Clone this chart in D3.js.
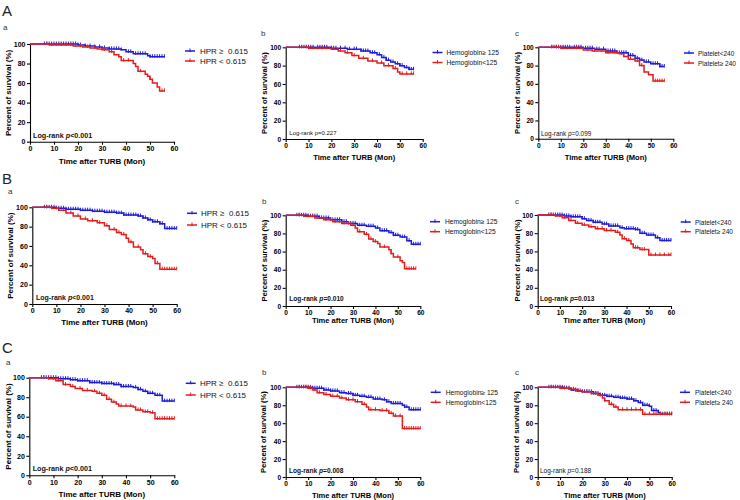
<!DOCTYPE html>
<html><head><meta charset="utf-8">
<script src="https://cdn.jsdelivr.net/npm/d3@7"></script>
<style>body{margin:0;background:#fff}svg{display:block}text{font-family:"Liberation Sans",Arial,sans-serif}</style>
</head><body><svg id="c" width="740" height="500"></svg>
<script>
// ---------- DATA ----------
const timeTicks = [0,10,20,30,40,50,60];
const survivalTicks = [0,20,40,60,80,100];
const groupLetters = ["A","B","C"];
const panelLetters = ["a","b","c"];
const xTitle = "Time after TURB (Mon)";
const yTitle = "Percent of survival (%)";
const legendHPR = ["HPR \u2265\u00a0 0.615","HPR < 0.615"];
const legendHb = ["Hemoglobin\u2265 125","Hemoglobin<125"];
const legendPlt = ["Platelet<240","Platelet\u2265 240"];
const logRankP = ["<0.001","=0.227","=0.099","<0.001","=0.010","=0.013","<0.001","=0.008","=0.188"];

// step curves [time, survival %]
const Aa_blue = [[0,100],[20,99],[23,98],[27,97],[30,96],[33,95],[38,94],[40,92],[43,90],[49,88],[50,87],[56,87]];
const Aa_red  = [[0,100],[8,99],[18,98],[22,97],[25,96],[28,95],[30,94],[33,92],[35,89],[37,87],[38,83],[43,80],[44,77],[45,72],[48,69],[49,67],[50,64],[51,60],[53,56],[54,52],[56,52]];
const Ab_blue = [[0,100],[20,99],[27,98],[33,96],[37,94],[40,92],[42,89],[44,86],[46,84],[48,82],[50,80],[52,78],[54,76],[56,76]];
const Ab_red  = [[0,100],[10,99],[20,98],[23,96],[26,94],[29,91],[32,88],[36,85],[40,83],[43,80],[47,77],[49,73],[50,71],[56,71]];
const Ac_blue = [[0,100],[20,99],[25,98],[30,96],[35,94],[40,91],[43,88],[45,86],[47,84],[50,82],[54,79],[56,79]];
const Ac_red  = [[0,100],[10,99],[20,97],[24,96],[30,94],[36,93],[38,90],[40,87],[43,85],[45,80],[47,73],[49,70],[51,63],[56,63]];
const Ba_blue = [[0,100],[10,99],[14,98],[20,97],[25,96],[30,95],[35,94],[38,92],[44,91],[46,89],[48,87],[50,85],[53,83],[55,78],[60,78]];
const Ba_red  = [[0,100],[8,99],[11,97],[14,94],[17,91],[20,88],[23,86],[27,84],[30,81],[32,77],[35,74],[37,72],[39,68],[40,64],[42,59],[45,56],[46,52],[48,49],[50,47],[51,42],[53,36],[60,36]];
const Bb_blue = [[0,100],[10,99],[15,97],[20,95],[25,93],[28,91],[32,89],[36,88],[40,86],[42,83],[46,81],[48,78],[51,76],[54,72],[56,68],[60,68]];
const Bb_red  = [[0,100],[8,99],[13,97],[17,95],[21,93],[25,91],[29,89],[31,86],[32,82],[35,79],[37,74],[39,71],[41,69],[42,65],[46,62],[47,58],[48,54],[51,50],[52,48],[53,41],[58,41]];
const Bc_blue = [[0,100],[12,99],[15,98],[20,96],[22,94],[25,92],[29,90],[32,88],[37,86],[39,85],[44,84],[46,80],[49,78],[53,75],[55,72],[60,72]];
const Bc_red  = [[0,100],[8,99],[11,97],[14,94],[17,91],[20,89],[23,87],[26,85],[30,83],[35,81],[37,78],[38,74],[40,72],[42,68],[43,64],[46,62],[50,56],[60,56]];
const Ca_blue = [[0,100],[12,99],[17,98],[20,97],[25,95],[30,94],[35,93],[38,91],[43,90],[45,88],[47,86],[49,84],[52,82],[55,76],[60,76]];
const Ca_red  = [[0,100],[8,99],[11,97],[14,93],[17,91],[19,89],[22,87],[26,86],[28,84],[30,82],[32,78],[34,75],[36,73],[37,71],[43,70],[44,67],[47,65],[50,64],[52,58],[60,58]];
const Cb_blue = [[0,100],[12,99],[17,97],[20,96],[24,94],[27,93],[30,91],[33,90],[36,89],[39,87],[43,86],[45,84],[47,82],[52,80],[53,78],[55,75],[60,75]];
const Cb_red  = [[0,100],[10,99],[12,97],[14,94],[17,92],[20,90],[24,88],[27,86],[31,84],[34,81],[36,78],[37,75],[42,74],[46,71],[48,68],[52,54],[60,54]];
const Cc_blue = [[0,100],[12,99],[15,97],[18,96],[20,95],[25,93],[28,91],[31,90],[34,89],[37,88],[40,87],[43,85],[45,83],[47,80],[50,79],[51,74],[54,72],[55,70],[60,70]];
const Cc_red  = [[0,100],[10,99],[14,98],[17,96],[20,95],[24,93],[27,91],[29,88],[30,85],[32,81],[34,78],[36,75],[47,70],[60,70]];

// censoring times
const Aa_blueCens = [6,7,8,9,10,11,12,13,14,15,16,17,18,19,20,21,23,25,27,29,31,33,34,35,36,37,38,41,42,44,45,46,47,48,50,51,52,53,54,55,56];
const Aa_redCens  = [7,9,11,13,15,17,19,21,24,27,31,34,39,41,46,50,55,56];
const Ab_blueCens = [6,7,8,9,10,11,12,14,15,16,17,18,20,21,22,24,26,28,30,31,33,34,35,36,38,39,41,43,44,45,47,49,50,51,53,54,55,56];
const Ab_redCens  = [7,9,10,12,14,16,18,21,24,27,30,34,38,42,45,48,51,53,55,56];
const Ac_blueCens = [6,7,8,9,10,11,12,13,14,16,17,18,19,21,22,23,24,26,27,29,31,32,33,34,36,37,38,39,41,42,44,45,46,48,49,51,52,53,54,55,56];
const Ac_redCens  = [6,8,9,11,13,15,17,19,22,25,28,31,34,37,41,44,46,52,53,54,55,56];
const Ba_blueCens = [5,6,7,8,9,10,11,12,13,14,15,16,17,18,19,20,21,22,23,24,25,26,27,28,29,30,31,32,33,34,35,36,37,38,39,40,41,42,43,44,45,46,47,48,49,50,51,52,53,54,56,57,58,59,60];
const Ba_redCens  = [6,8,10,13,16,19,22,25,28,31,34,36,38,41,44,47,49,52,54,55,56,57,58,59,60];
const Bb_blueCens = [5,6,7,8,9,10,11,12,13,14,15,16,17,18,19,20,21,22,23,24,26,27,29,30,31,33,34,35,37,38,39,41,43,44,45,47,48,49,50,52,53,55,57,58,59,60];
const Bb_redCens  = [6,8,10,12,14,16,18,20,22,24,26,28,30,33,36,38,40,44,47,50,54,55,56,57,58];
const Bc_blueCens = [5,6,7,8,9,10,11,12,13,14,15,16,17,18,19,20,21,23,24,25,26,27,28,30,31,32,33,34,35,36,38,40,41,42,43,44,45,47,48,50,51,52,54,56,57,58,59,60];
const Bc_redCens  = [6,8,10,12,15,18,21,24,27,29,31,33,36,39,41,44,45,47,48,51,53,55,57,59,60];
const Ca_blueCens = [5,6,7,8,9,10,11,12,13,14,15,16,17,18,19,20,21,22,23,24,25,26,27,28,29,30,31,32,33,34,35,36,37,38,39,40,41,42,44,45,46,48,49,50,51,53,54,56,57,58,59,60];
const Ca_redCens  = [6,8,10,12,15,18,21,24,27,29,31,33,35,38,40,42,45,46,48,49,51,53,54,55,56,57,58,59,60];
const Cb_blueCens = [5,6,7,8,9,10,11,12,13,14,15,16,17,18,19,20,21,22,23,25,26,28,29,30,31,32,34,35,37,38,40,41,42,44,45,46,48,49,50,51,53,54,56,57,58,59,60];
const Cb_redCens  = [6,8,9,10,11,13,15,18,21,23,25,28,30,32,35,38,40,43,45,47,49,51,53,54,55,56,57,58,59,60];
const Cc_blueCens = [5,6,7,8,9,10,11,12,13,14,15,16,17,18,19,20,21,22,23,24,25,26,27,28,29,30,31,32,33,35,36,37,38,39,40,41,42,43,44,46,47,48,49,50,52,53,54,56,57,58,59,60];
const Cc_redCens  = [6,8,10,12,14,16,18,20,22,24,26,28,30,33,35,38,40,42,44,46,48,50,52,53,55,57,58,59,60];

// ---------- LAYOUT ----------
const panels = [
 {g:0,p:0,x0:30,x1:174,y0:141.7,y1:44,blue:Aa_blue,red:Aa_red,bc:Aa_blueCens,rc:Aa_redCens,leg:legendHPR,lx:185,ly:[51,61],ltx:200,lf:8,lrBold:true,lrItal:true,lrF:7.2,lrX:33,lrY:137.5,big:true,ytx:8,xty:164,lettY:30,lettX:3},
 {g:0,p:1,x0:285.7,x1:422.7,y0:139,y1:47.3,blue:Ab_blue,red:Ab_red,bc:Ab_blueCens,rc:Ab_redCens,leg:legendHb,lx:432.5,ly:[52.5,62.5],ltx:446.5,lf:6.7,lrBold:false,lrItal:false,lrF:6,lrX:289.3,lrY:135,big:false,ytx:264,xty:159.5,lettY:36,lettX:261},
 {g:0,p:2,x0:538.3,x1:673.3,y0:138.7,y1:47.3,blue:Ac_blue,red:Ac_red,bc:Ac_blueCens,rc:Ac_redCens,leg:legendPlt,lx:684,ly:[53,63],ltx:698,lf:6.5,lrBold:false,lrItal:true,lrF:6.4,lrX:541,lrY:136,big:false,ytx:517,xty:159.5,lettY:36,lettX:515},
 {g:1,p:0,x0:32.3,x1:176.7,y0:304,y1:207.3,blue:Ba_blue,red:Ba_red,bc:Ba_blueCens,rc:Ba_redCens,leg:legendHPR,lx:187,ly:[213.3,225],ltx:201,lf:8,lrBold:true,lrItal:true,lrF:7,lrX:36,lrY:299.5,big:true,ytx:10,xty:325,lettY:194,lettX:8},
 {g:1,p:1,x0:285.7,x1:420.3,y0:306,y1:215.3,blue:Bb_blue,red:Bb_red,bc:Bb_blueCens,rc:Bb_redCens,leg:legendHb,lx:430,ly:[221.7,231.7],ltx:445,lf:6.7,lrBold:true,lrItal:true,lrF:6.6,lrX:289.3,lrY:300.7,big:false,ytx:264,xty:323,lettY:204,lettX:262},
 {g:1,p:2,x0:537.7,x1:671,y0:306,y1:215,blue:Bc_blue,red:Bc_red,bc:Bc_blueCens,rc:Bc_redCens,leg:legendPlt,lx:680.7,ly:[222,231.7],ltx:695,lf:6.5,lrBold:true,lrItal:true,lrF:6.6,lrX:540,lrY:301,big:false,ytx:517,xty:323,lettY:204,lettX:515},
 {g:2,p:0,x0:29.3,x1:174.3,y0:475.3,y1:377.7,blue:Ca_blue,red:Ca_red,bc:Ca_blueCens,rc:Ca_redCens,leg:legendHPR,lx:185.7,ly:[383.3,395],ltx:200,lf:8,lrBold:true,lrItal:true,lrF:7.2,lrX:32.7,lrY:470.7,big:true,ytx:8,xty:497,lettY:365,lettX:6},
 {g:2,p:1,x0:285.7,x1:420.3,y0:477,y1:387.3,blue:Cb_blue,red:Cb_red,bc:Cb_blueCens,rc:Cb_redCens,leg:legendHb,lx:430.7,ly:[392.3,402.3],ltx:445.7,lf:6.7,lrBold:true,lrItal:true,lrF:6.6,lrX:289,lrY:472.7,big:false,ytx:263,xty:497.5,lettY:375,lettX:262},
 {g:2,p:2,x0:537.7,x1:671.7,y0:477,y1:387.3,blue:Cc_blue,red:Cc_red,bc:Cc_blueCens,rc:Cc_redCens,leg:legendPlt,lx:680,ly:[392.3,402.3],ltx:695,lf:6.5,lrBold:false,lrItal:true,lrF:6.5,lrX:540,lrY:473.3,big:false,ytx:516,xty:497.5,lettY:375,lettX:515}
];
const groupPos = [[2,16],[2,184],[2,353]];
const BLUE = "#1c1cdc", RED = "#e41c1c";

const svg = d3.select("#c");
groupLetters.forEach((L,i)=>{
  svg.append("text").attr("x",groupPos[i][0]).attr("y",groupPos[i][1]).attr("font-size",15).attr("fill","#222").text(L);
});

function survAt(curve,t){ let s=curve[0][1]; for(const d of curve){ if(d[0]<=t) s=d[1]; } return s; }

panels.forEach((P,i)=>{
  const g = svg.append("g");
  const x = d3.scaleLinear().domain([0,60]).range([P.x0,P.x1]);
  const y = d3.scaleLinear().domain([0,100]).range([P.y0,P.y1]);
  const tf = P.big?7:6.6;
  const xa = g.append("g").attr("transform",`translate(0,${P.y0})`)
    .call(d3.axisBottom(x).tickValues(timeTicks).tickSize(3).tickSizeOuter(0).tickPadding(1.5));
  const ya = g.append("g").attr("transform",`translate(${P.x0},0)`)
    .call(d3.axisLeft(y).tickValues(survivalTicks).tickSize(3).tickSizeOuter(0).tickPadding(1.5));
  [xa,ya].forEach(a=>{
    a.selectAll("path,line").attr("stroke","#000").attr("stroke-width",1.1);
    a.selectAll("text").attr("font-size",tf).attr("font-weight","bold").attr("fill","#000")
      .attr("font-family","'Liberation Sans',Arial,sans-serif");
  });
  // titles
  g.append("text").attr("x",(P.x0+P.x1)/2).attr("y",P.xty).attr("text-anchor","middle")
    .attr("font-size",P.big?8:7.6).attr("font-weight","bold").text(xTitle);
  g.append("text").attr("transform",`translate(${P.ytx},${(P.y0+P.y1)/2}) rotate(-90)`)
    .attr("text-anchor","middle").attr("dominant-baseline","central")
    .attr("font-size",P.big?8:7.6).attr("font-weight","bold").text(yTitle);
  g.append("text").attr("x",P.lettX).attr("y",P.lettY).attr("font-size",8).attr("fill","#333").text(panelLetters[P.p]);
  // curves
  const line = d3.line().x(d=>x(d[0])).y(d=>y(d[1])).curve(d3.curveStepAfter);
  [[P.blue,P.bc,BLUE],[P.red,P.rc,RED]].forEach(([cv,cs,col])=>{
    g.append("path").attr("d",line(cv)).attr("fill","none").attr("stroke",col).attr("stroke-width",1.5);
    g.selectAll(null).data(cs).enter().append("line")
      .attr("x1",d=>x(d)).attr("x2",d=>x(d))
      .attr("y1",d=>y(survAt(cv,d))-2.5).attr("y2",d=>y(survAt(cv,d))+1)
      .attr("stroke",col).attr("stroke-width",1);
  });
  // legend
  [BLUE,RED].forEach((col,k)=>{
    const ly=P.ly[k];
    g.append("line").attr("x1",P.lx).attr("x2",P.lx+10).attr("y1",ly).attr("y2",ly).attr("stroke",col).attr("stroke-width",1.5);
    g.append("line").attr("x1",P.lx+5).attr("x2",P.lx+5).attr("y1",ly-2.5).attr("y2",ly+1).attr("stroke",col).attr("stroke-width",1);
    g.append("text").attr("x",P.ltx).attr("y",ly).attr("dominant-baseline","central")
      .attr("font-size",P.lf).attr("fill","#111").text(P.leg[k]);
  });
  // log-rank
  const t = g.append("text").attr("x",P.lrX).attr("y",P.lrY).attr("font-size",P.lrF)
    .attr("font-weight",P.lrBold?"bold":"normal").attr("fill","#111");
  t.append("tspan").text("Log-rank ");
  t.append("tspan").attr("font-style",P.lrItal?"italic":"normal").text("p");
  t.append("tspan").text(logRankP[i]);
});
</script></body></html>
